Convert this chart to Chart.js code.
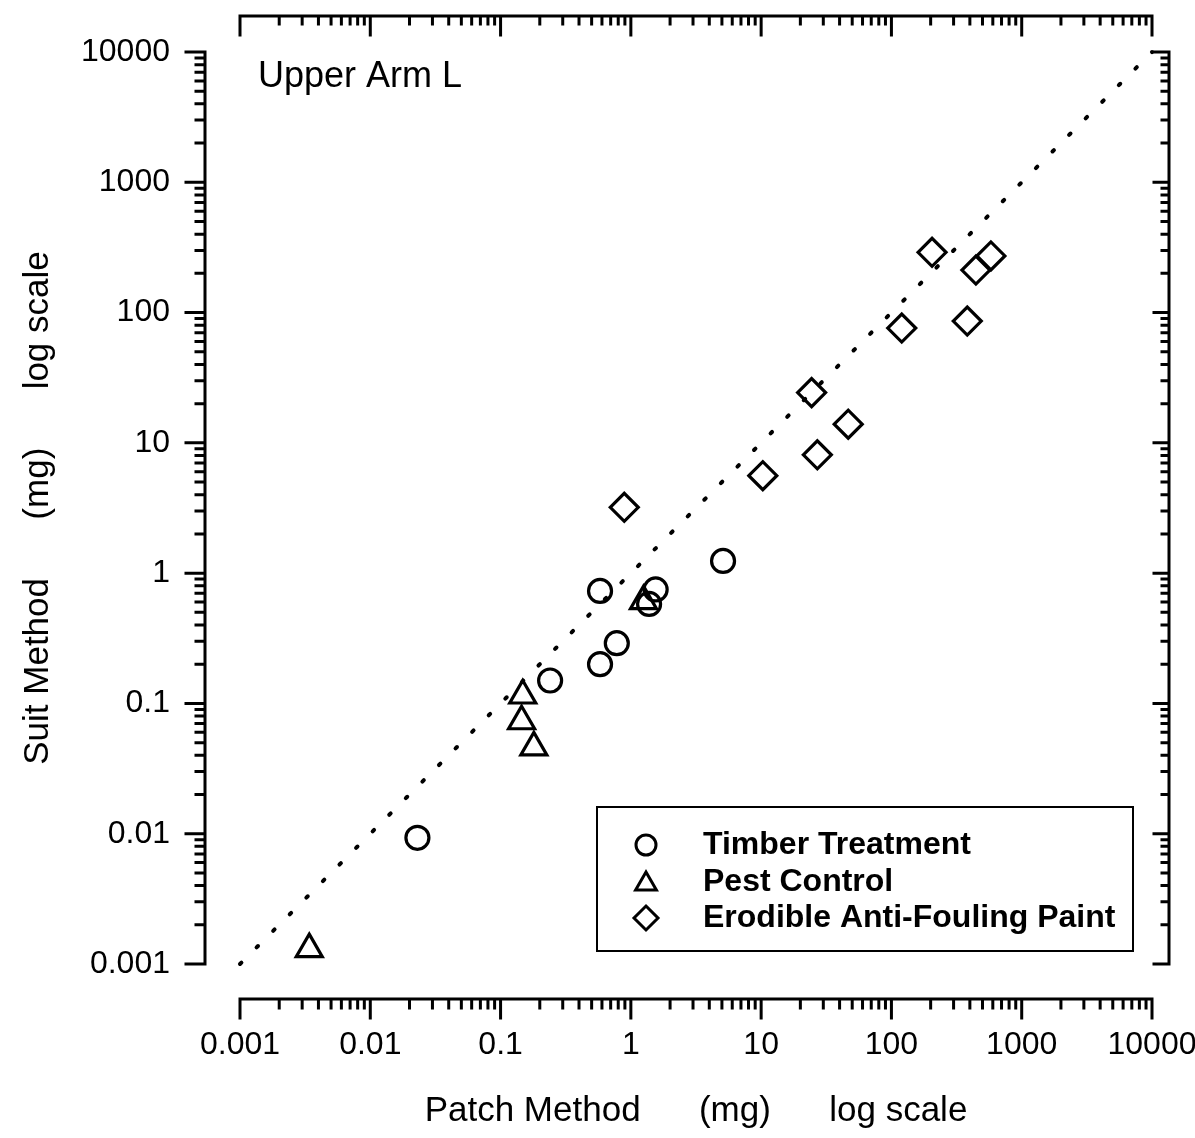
<!DOCTYPE html>
<html>
<head>
<meta charset="utf-8">
<script src="https://cdn.jsdelivr.net/npm/chart.js@4.4.0/dist/chart.umd.min.js"></script>
<style>
  html, body { margin: 0; padding: 0; background: #fff; }
  #wrap { width: 1195px; height: 1138px; }
</style>
</head>
<body>
<div id="wrap"><canvas id="chart" width="1195" height="1138"></canvas></div>
<script>
// Patch method (x) vs suit method (y), mg, upper arm L - both axes log
const timberX = [0.023, 0.24, 0.58, 0.78, 0.58, 1.55, 1.38, 5.1];
const timberY = [0.0093, 0.15, 0.2, 0.29, 0.73, 0.75, 0.58, 1.24];
const pestX = [0.0034, 0.148, 0.145, 0.18, 1.25];
const pestY = [0.0013, 0.115, 0.073, 0.046, 0.61];
const paintX = [0.89, 10.3, 27, 24.4, 46.6, 120, 205, 382, 445, 580];
const paintY = [3.2, 5.6, 8.1, 24.3, 13.9, 76, 290, 86, 212, 272];
const lineX = [0.001, 10000]; // 1:1 line
const lineY = [0.001, 10000];
const tickValues = [0.001, 0.01, 0.1, 1, 10, 100, 1000, 10000];
const tickLabels = ['0.001', '0.01', '0.1', '1', '10', '100', '1000', '10000'];
const seriesNames = ['Timber Treatment', 'Pest Control', 'Erodible Anti-Fouling Paint'];

const FONT = '"Liberation Sans", Arial, Helvetica, sans-serif';

function pts(xs, ys) {
    return xs.map((v, i) => ({ x: v, y: ys[i] }));
}

// minor ticks 2..9 inside each decade
const minorValues = [];
for (let i = 0; i < tickValues.length - 1; i++) {
    for (let k = 2; k <= 9; k++) minorValues.push(tickValues[i] * k);
}

function marker(ctx, shape, cx, cy, r) {
    ctx.beginPath();
    if (shape === 'circle') {
        ctx.arc(cx, cy, r, 0, Math.PI * 2);
    } else if (shape === 'triangle') {
        ctx.moveTo(cx, cy - r);
        ctx.lineTo(cx + r * 0.866, cy + r / 2);
        ctx.lineTo(cx - r * 0.866, cy + r / 2);
        ctx.closePath();
    } else {
        ctx.moveTo(cx, cy - r);
        ctx.lineTo(cx + r, cy);
        ctx.lineTo(cx, cy + r);
        ctx.lineTo(cx - r, cy);
        ctx.closePath();
    }
    ctx.stroke();
}

// offset axes (all four sides), panel label and legend box
const frame = {
    id: 'frame',
    afterDraw(chart) {
        const { ctx, chartArea: a, scales: { x, y } } = chart;
        const gap = 35;
        ctx.save();
        ctx.strokeStyle = '#000';
        ctx.lineWidth = 3;
        ctx.lineCap = 'square';

        const x0 = x.getPixelForValue(tickValues[0]);
        const x1 = x.getPixelForValue(tickValues[tickValues.length - 1]);
        const y0 = y.getPixelForValue(tickValues[0]);
        const y1 = y.getPixelForValue(tickValues[tickValues.length - 1]);

        function hAxis(yy, major, minor) {
            ctx.beginPath();
            ctx.moveTo(x0, yy); ctx.lineTo(x1, yy);
            tickValues.forEach(v => { const p = x.getPixelForValue(v); ctx.moveTo(p, yy); ctx.lineTo(p, yy + major); });
            minorValues.forEach(v => { const p = x.getPixelForValue(v); ctx.moveTo(p, yy); ctx.lineTo(p, yy + minor); });
            ctx.stroke();
        }
        function vAxis(xx, major, minor) {
            ctx.beginPath();
            ctx.moveTo(xx, y0); ctx.lineTo(xx, y1);
            tickValues.forEach(v => { const p = y.getPixelForValue(v); ctx.moveTo(xx, p); ctx.lineTo(xx - major, p); });
            minorValues.forEach(v => { const p = y.getPixelForValue(v); ctx.moveTo(xx, p); ctx.lineTo(xx - minor, p); });
            ctx.stroke();
        }
        hAxis(a.bottom + gap, 19, 9);
        hAxis(a.top - gap - 1, 19, 8);
        vAxis(a.left - gap, 19, 9);
        vAxis(a.right + 17, 15, 7);

        // panel label
        ctx.fillStyle = '#000';
        ctx.font = '36px ' + FONT;
        ctx.textAlign = 'left';
        ctx.textBaseline = 'alphabetic';
        ctx.fillText('Upper Arm L', 258, 87);

        // legend
        ctx.lineWidth = 2;
        ctx.strokeRect(597, 807, 536, 144);
        const shapes = ['circle', 'triangle', 'diamond'];
        const sizes = [10, 12, 12];
        const rows = [845, 882, 918];
        ctx.lineWidth = 3;
        ctx.lineCap = 'butt';
        ctx.lineJoin = 'miter';
        ctx.font = 'bold 32px ' + FONT;
        ctx.textBaseline = 'middle';
        seriesNames.forEach((name, i) => {
            marker(ctx, shapes[i], 646, rows[i] + (i === 1 ? 2 : 0), sizes[i]);
            ctx.fillText(name, 703, rows[i]);
        });
        ctx.restore();
    }
};

const pointStyle = {
    backgroundColor: 'rgba(0,0,0,0)',
    borderColor: '#000',
    borderWidth: 3.2,
    pointHoverRadius: 0,
    clip: false
};

const axisTitleFont = { family: FONT, size: 35 };
const tickFont = { family: FONT, size: 32 };

new Chart(document.getElementById('chart'), {
    type: 'scatter',
    data: {
        datasets: [
            Object.assign({ label: seriesNames[0], data: pts(timberX, timberY), pointStyle: 'circle', pointRadius: 11.5 }, pointStyle),
            Object.assign({ label: seriesNames[1], data: pts(pestX, pestY), pointStyle: 'triangle', pointRadius: 15 }, pointStyle),
            Object.assign({ label: seriesNames[2], data: pts(paintX, paintY), pointStyle: 'rectRot', pointRadius: 14 }, pointStyle),
            {
                label: '1:1',
                data: pts(lineX, lineY),
                showLine: true,
                borderColor: '#000',
                borderWidth: 4,
                borderDash: [2, 21.45],
                borderCapStyle: 'round',
                pointRadius: 0,
                clip: false
            }
        ]
    },
    options: {
        responsive: false,
        animation: false,
        events: [],
        layout: { padding: { top: 52, right: 43, left: 0, bottom: 0 } },
        plugins: {
            legend: { display: false },
            tooltip: { enabled: false }
        },
        scales: {
            x: {
                type: 'logarithmic',
                min: 0.001,
                max: 10000,
                afterBuildTicks: s => { s.ticks = tickValues.map(v => ({ value: v })); },
                afterFit: s => { s.height = 174; s.paddingLeft = 0; s.paddingRight = 0; },
                ticks: {
                    callback: (v, i) => tickLabels[i],
                    font: tickFont,
                    color: '#000',
                    padding: 62,
                    maxRotation: 0,
                    autoSkip: false
                },
                grid: { display: false, drawTicks: false },
                border: { display: false },
                title: {
                    display: true,
                    text: 'Patch Method      (mg)      log scale',
                    font: axisTitleFont,
                    color: '#000',
                    padding: { top: 0, bottom: 6 }
                }
            },
            y: {
                type: 'logarithmic',
                min: 0.001,
                max: 10000,
                afterBuildTicks: s => { s.ticks = tickValues.map(v => ({ value: v })); },
                afterFit: s => { s.width = 240; s.paddingTop = 0; s.paddingBottom = 0; },
                ticks: {
                    callback: (v, i) => tickLabels[i],
                    font: tickFont,
                    color: '#000',
                    padding: 70,
                    autoSkip: false
                },
                grid: { display: false, drawTicks: false },
                border: { display: false },
                title: {
                    display: true,
                    text: 'Suit Method      (mg)      log scale',
                    font: axisTitleFont,
                    color: '#000',
                    padding: { top: 17, bottom: 0 }
                }
            }
        }
    },
    plugins: [frame]
});
</script>
</body>
</html>
